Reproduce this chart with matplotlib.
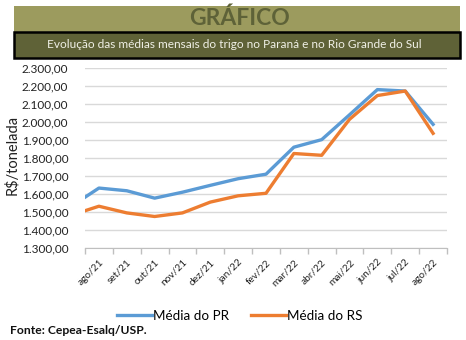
import matplotlib
matplotlib.use("Agg")
import matplotlib.pyplot as plt
from matplotlib.patches import Rectangle
from matplotlib.lines import Line2D
import numpy as np

plt.rcParams['font.family'] = ['Lato', 'DejaVu Sans']

months = ["ago/21", "set/21", "out/21", "nov/21", "dez/21", "jan/22", "fev/22",
          "mar/22", "abr/22", "mai/22", "jun/22", "jul/22", "ago/22"]
# previous month (jul/21), only visible as the segment entering the plot
pr_prev = 1531
rs_prev = 1482
pr = [1633, 1618, 1577, 1610, 1648, 1685, 1710, 1860, 1902, 2040, 2180, 2172, 1987]
rs = [1532, 1495, 1475, 1495, 1555, 1590, 1604, 1825, 1815, 2015, 2147, 2172, 1937]
yticks = [1300, 1400, 1500, 1600, 1700, 1800, 1900, 2000, 2100, 2200, 2300]

W, H = 466, 340
fig = plt.figure(figsize=(W / 100, H / 100), dpi=100)
fig.patch.set_facecolor("white")

def fx(px):
    return px / W

def fy(py):
    return 1 - py / H

# header band
fig.patches.append(Rectangle((fx(14), fy(32)), fx(446), 26 / H, transform=fig.transFigure,
                             facecolor="#9c9b5e", edgecolor="none", zorder=0))
fig.text(fx(240), fy(18), "GRÁFICO", ha="center", va="center", fontsize=16.5,
         fontweight="bold", color="#5e6238")
# subtitle box
fig.patches.append(Rectangle((fx(14), fy(58)), fx(446), 26 / H, transform=fig.transFigure,
                             facecolor="#5f6237", edgecolor="black", linewidth=1.8, zorder=1))
fig.text(fx(234), fy(45), "Evolução das médias mensais do trigo no Paraná e no Rio Grande do Sul",
         ha="center", va="center", fontsize=8.6, color="#f0f0e6")

ax = fig.add_axes([fx(85), fy(248), fx(362), 180 / H])
ax.set_facecolor("none")
x = np.arange(-1, len(months))
ax.plot(x, [pr_prev] + pr, color="#5b9bd5", lw=2.4, solid_joinstyle="round", zorder=3)
ax.plot(x, [rs_prev] + rs, color="#ed7d31", lw=2.4, solid_joinstyle="round", zorder=3)
ax.set_xlim(-0.5, len(months) - 0.5)
ax.set_ylim(1300, 2300)
ax.set_yticks(yticks)
ax.set_yticklabels([f"{v:,.2f}".replace(",", "X").replace(".", ",").replace("X", ".") for v in yticks],
                   fontsize=8.5, color="#222222")
ax.yaxis.grid(True, color="#d9d9d9", lw=1)
ax.set_axisbelow(True)
ax.tick_params(axis="y", length=0, pad=12)
ax.set_xticks(np.arange(len(months)))
ax.set_xticklabels(months, rotation=45, ha="right", rotation_mode="anchor", fontsize=7.3, color="#222222")
ax.set_xticks(np.arange(-0.5, len(months)), minor=True)
ax.tick_params(axis="x", which="major", length=0, pad=7)
ax.tick_params(axis="x", which="minor", length=4, color="#bfbfbf", width=1)
for s in ["top", "right", "left"]:
    ax.spines[s].set_visible(False)
ax.spines["bottom"].set_color("#bfbfbf")
fig.text(fx(12), fy(155), "R$/tonelada", rotation=90, ha="center", va="center",
         fontsize=10.5, color="#222222")

handles = [Line2D([], [], color="#5b9bd5", lw=2.4), Line2D([], [], color="#ed7d31", lw=2.4)]
fig.legend(handles, ["Média do PR", "Média do RS"], loc="center", bbox_to_anchor=(fx(240), fy(316)),
           ncol=2, frameon=False, fontsize=9.7, handlelength=2.6, handletextpad=0.1,
           columnspacing=1.6)
fig.text(fx(10), fy(330), "Fonte: Cepea-Esalq/USP.", ha="left", va="center", fontsize=8.7,
         fontweight="bold", color="#111111")

fig.savefig("out.png", dpi=100)
